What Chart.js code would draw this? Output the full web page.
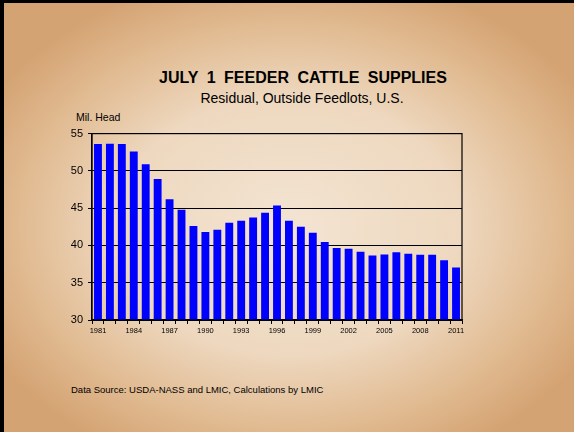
<!DOCTYPE html>
<html>
<head>
<meta charset="utf-8">
<script src="https://cdn.jsdelivr.net/npm/chart.js@4.4.0/dist/chart.umd.min.js"></script>
<style>
  body { margin: 0; font-family: "Liberation Sans", Arial, sans-serif; }
  #page {
    position: relative; width: 574px; height: 432px; box-sizing: border-box;
    border-left: 4px solid #000; border-top: 3px solid #000;
    background: radial-gradient(ellipse 60% 60% at 50% 52%, #f3e4d2 0%, #eed8bf 50%, #e0b98f 80%, #d4a373 100%);
    overflow: hidden;
  }
  .txt { position: absolute; color: #000; white-space: nowrap; }
  #title { left: 99px; width: 400px; top: 66px; text-align: center; font-weight: bold; font-size: 16px; word-spacing: 4px; }
  #sub { left: 98px; width: 400px; top: 87px; text-align: center; font-size: 14px; }
  #unit { left: 72px; top: 108px; font-size: 10.5px; }
  #source { left: 67px; top: 381px; font-size: 9.5px; }
  #wrap { position: absolute; left: 31px; top: 119px; width: 440px; height: 218px; }
</style>
</head>
<body>
<div id="page">
  <div class="txt" id="title">JULY 1 FEEDER CATTLE SUPPLIES</div>
  <div class="txt" id="sub">Residual, Outside Feedlots, U.S.</div>
  <div class="txt" id="unit">Mil. Head</div>
  <div class="txt" id="source">Data Source: USDA-NASS and LMIC, Calculations by LMIC</div>
  <div id="wrap"><canvas id="chart"></canvas></div>
</div>
<script>
// July 1 feeder cattle supplies outside feedlots, million head
const years = ['1981','1982','1983','1984','1985','1986','1987','1988','1989','1990',
  '1991','1992','1993','1994','1995','1996','1997','1998','1999','2000',
  '2001','2002','2003','2004','2005','2006','2007','2008','2009','2010','2011'];
const supplies = [53.6, 53.65, 53.6, 52.6, 50.9, 48.9, 46.2, 44.8, 42.6, 41.8,
  42.1, 43.05, 43.3, 43.75, 44.4, 45.35, 43.3, 42.5, 41.7, 40.45,
  39.65, 39.55, 39.15, 38.65, 38.8, 39.1, 38.9, 38.75, 38.75, 38.0, 37.05];
const yTicks = [30, 35, 40, 45, 50, 55];
const shownYears = ['1981','1984','1987','1990','1993','1996','1999','2002','2005','2008','2011'];

// draw the box round the plot area
const frame = {
  id: 'frame',
  afterDraw(chart) {
    const a = chart.chartArea, ctx = chart.ctx;
    ctx.save();
    ctx.strokeStyle = '#000';
    ctx.lineWidth = 1.2;
    ctx.strokeRect(a.left, a.top, a.right - a.left, a.bottom - a.top);
    ctx.restore();
  }
};

Chart.defaults.font.family = '"Liberation Sans", Arial, sans-serif';
Chart.defaults.color = '#000';

new Chart(document.getElementById('chart'), {
  type: 'bar',
  data: {
    labels: years,
    datasets: [{
      data: supplies,
      backgroundColor: '#0000ff',
      borderWidth: 0,
      barPercentage: 0.66,
      categoryPercentage: 1
    }]
  },
  options: {
    responsive: true,
    maintainAspectRatio: false,
    animation: false,
    layout: { padding: { top: 8, right: 13, left: 0, bottom: 0 } },
    plugins: { legend: { display: false }, tooltip: { enabled: false } },
    scales: {
      x: {
        afterFit(s) { s.height = 20; },
        border: { color: '#000', width: 1.2 },
        grid: { offset: true, drawOnChartArea: false, drawTicks: true, tickLength: 4, color: '#000' },
        ticks: {
          autoSkip: false, maxRotation: 0, minRotation: 0, padding: 2,
          font: { size: 7.5 },
          callback(v) { const l = years[v]; return shownYears.includes(l) ? l : ''; }
        }
      },
      y: {
        min: 30, max: 55,
        afterFit(s) { s.width = 57; },
        afterBuildTicks(s) { s.ticks = yTicks.map(v => ({ value: v })); },
        border: { color: '#000', width: 1.2 },
        grid: { color: '#000', lineWidth: 1, tickLength: 4 },
        ticks: { font: { size: 11 }, padding: 5 }
      }
    }
  },
  plugins: [frame]
});
</script>
</body>
</html>
